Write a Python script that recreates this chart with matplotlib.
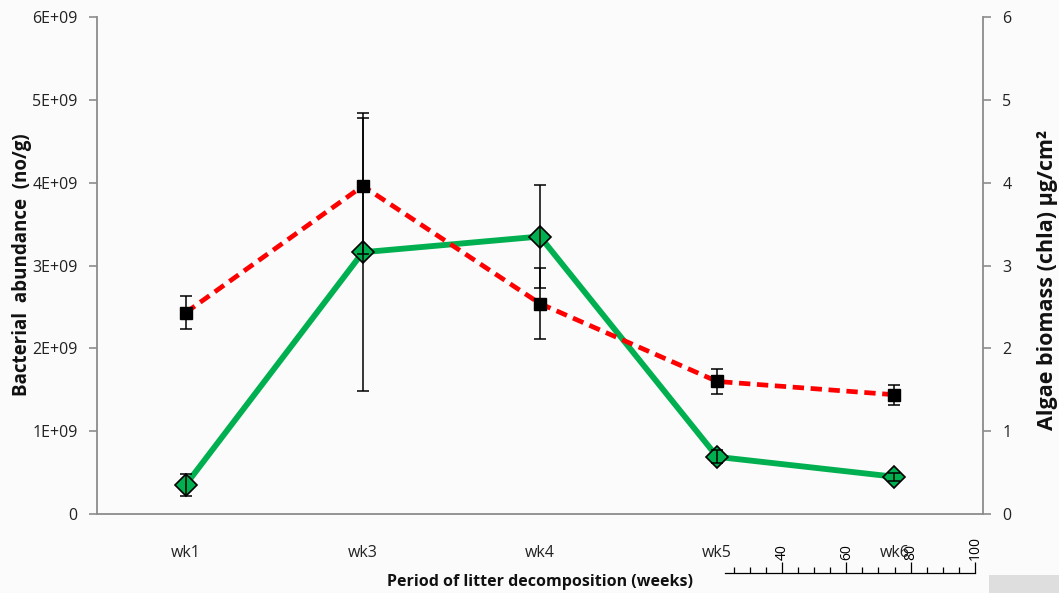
import matplotlib
matplotlib.use("Agg")
import matplotlib.pyplot as plt
from matplotlib.patches import Rectangle

weeks = ["wk1", "wk3", "wk4", "wk5", "wk6"]
bacteria = [2.43e9, 3.96e9, 2.54e9, 1.60e9, 1.44e9]
bacteria_err = [0.20e9, 0.82e9, 0.43e9, 0.15e9, 0.12e9]
algae = [0.35, 3.16, 3.35, 0.69, 0.45]
algae_err = [0.13, 1.68, 0.62, 0.08, 0.05]
left_ticks = [0, 1e9, 2e9, 3e9, 4e9, 5e9, 6e9]
left_labels = ["0", "1E+09", "2E+09", "3E+09", "4E+09", "5E+09", "6E+09"]
right_ticks = [0, 1, 2, 3, 4, 5, 6]
scale_ticks = [40, 60, 80, 100]

W, H = 1059, 593
font = ["Open Sans", "DejaVu Sans"]
plt.rcParams["font.family"] = font

fig = plt.figure(figsize=(W / 100, H / 100), dpi=100)
fig.patch.set_facecolor("#fbfbfb")

ax = fig.add_axes([97 / W, 1 - 514 / H, (983 - 97) / W, (514 - 17) / H])
ax.set_facecolor("none")
ax2 = ax.twinx()

x = list(range(len(weeks)))
grey = "#8c8c8c"

# algae biomass on the secondary axis (green diamonds)
ax2.plot(x, algae, color="#00b050", lw=4.2, zorder=2,
         marker="D", markersize=11.5, markerfacecolor="#00b050",
         markeredgecolor="black", markeredgewidth=1.2)
ax2.errorbar(x, algae, yerr=algae_err, fmt="none", ecolor="black",
             elinewidth=1.1, capsize=4, capthick=1.1, zorder=3)
ax2.set_ylim(0, 6)
ax2.set_yticks(right_ticks)
ax2.set_yticklabels([str(t) for t in right_ticks])

# bacterial abundance on the primary axis (red dashed, black squares)
ax.set_zorder(ax2.get_zorder() + 1)
ax.plot(x, bacteria, color="#ff0000", lw=3.4, ls=(0, (2.4, 1.4)), zorder=2,
        marker="s", markersize=9, markerfacecolor="black",
        markeredgecolor="black")
ax.errorbar(x, bacteria, yerr=bacteria_err, fmt="none", ecolor="black",
            elinewidth=1.1, capsize=4, capthick=1.1, zorder=3)
ax.set_ylim(0, 6e9)
ax.set_yticks(left_ticks)
ax.set_yticklabels(left_labels)
ax.set_xlim(-0.5, len(weeks) - 0.5)
ax.set_xticks(x)
ax.set_xticklabels(weeks)

for a in (ax, ax2):
    a.spines["top"].set_visible(False)
    for s in ("left", "right", "bottom"):
        a.spines[s].set_color(grey)
        a.spines[s].set_linewidth(1.3)
ax.spines["right"].set_visible(False)
ax2.spines["left"].set_visible(False)
ax2.spines["bottom"].set_visible(False)

ax.tick_params(axis="y", length=6, width=1.2, color=grey, labelsize=11.5,
               labelcolor="#222222", pad=8)
ax2.tick_params(axis="y", length=6, width=1.2, color=grey, labelsize=11.5,
                labelcolor="#222222", pad=8)
ax.tick_params(axis="x", length=0, labelsize=11.5, labelcolor="#222222", pad=22)

# axis titles
fig.text(22 / W, 1 - 265 / H, "Bacterial  abundance  (no/g)", rotation=90,
         ha="center", va="center", fontsize=13.5, fontweight="bold",
         color="#111111")
fig.text(1047 / W, 1 - 280 / H, "Algae biomass (chla) µg/cm²", rotation=90,
         ha="center", va="center", fontsize=15.5, fontweight="bold",
         color="#111111")
fig.text(540 / W, 1 - 582 / H, "Period of litter decomposition (weeks)",
         ha="center", va="center", fontsize=11.5, fontweight="bold",
         color="#111111")

# small ruler scale in the lower right corner
sc = fig.add_axes([725 / W, 1 - 573 / H, (975 - 725) / W, 0.0001])
sc.set_facecolor("none")
for s in ("left", "right", "bottom"):
    sc.spines[s].set_visible(False)
sc.spines["top"].set_linewidth(0.9)
sc.set_xlim(22.3, 100)
sc.set_yticks([])
sc.xaxis.set_ticks_position("top")
sc.set_xticks(scale_ticks)
sc.set_xticks(list(range(25, 101, 5)), minor=True)
sc.tick_params(axis="x", which="major", length=8, width=0.9, direction="out",
               labelsize=10, labelrotation=90, pad=1)
sc.tick_params(axis="x", which="minor", length=4, width=0.9, direction="out")
for lbl in sc.get_xticklabels():
    lbl.set_va("bottom")

fig.add_artist(Rectangle((989 / W, 0), 70 / W, 18 / H, transform=fig.transFigure,
                         facecolor="#dedede", edgecolor="none"))

fig.savefig("out.png", dpi=100, facecolor=fig.get_facecolor())
